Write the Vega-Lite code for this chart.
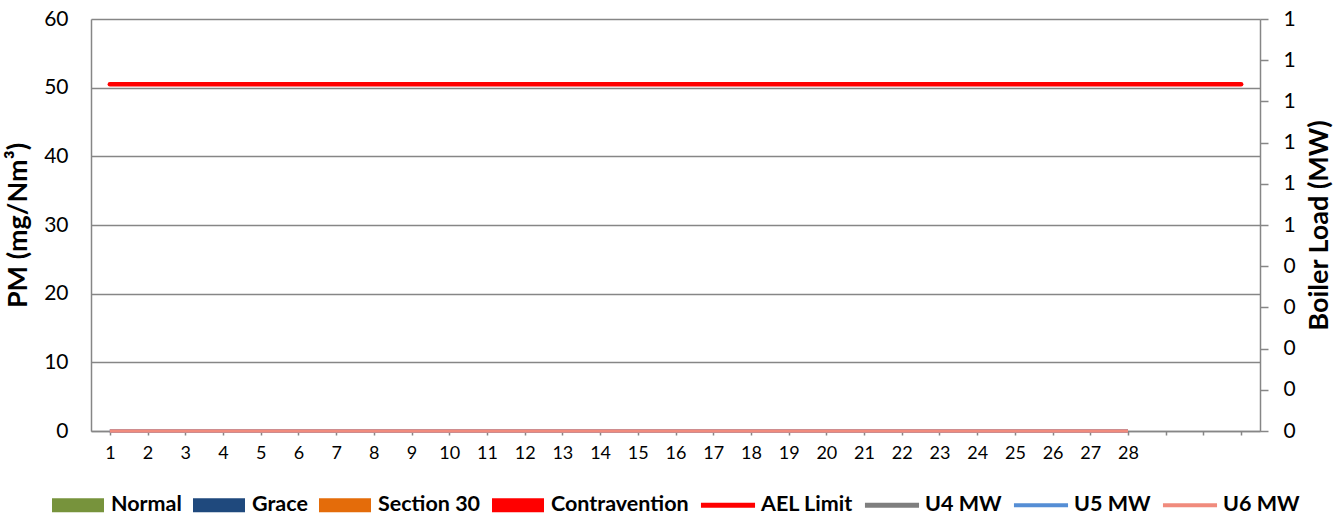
{
  "$schema": "https://vega.github.io/schema/vega-lite/v6.json",
  "width": 1169,
  "height": 412,
  "autosize": {"type": "none"},
  "padding": {"left": 91, "top": 19, "right": 83, "bottom": 85},
  "background": "white",
  "config": {
    "font": "Lato",
    "view": {"stroke": null},
    "axis": {
      "labelColor": "#000000",
      "titleColor": "#000000",
      "domainColor": "#868686",
      "domainWidth": 1.5,
      "tickColor": "#868686",
      "tickWidth": 1.5,
      "gridColor": "#868686",
      "gridWidth": 1.3
    }
  },
  "data": {
    "values": [
      {"day": 1, "AEL Limit": 50.5, "U4 MW": 0, "U5 MW": 0, "U6 MW": 0},
      {"day": 2, "AEL Limit": 50.5, "U4 MW": 0, "U5 MW": 0, "U6 MW": 0},
      {"day": 3, "AEL Limit": 50.5, "U4 MW": 0, "U5 MW": 0, "U6 MW": 0},
      {"day": 4, "AEL Limit": 50.5, "U4 MW": 0, "U5 MW": 0, "U6 MW": 0},
      {"day": 5, "AEL Limit": 50.5, "U4 MW": 0, "U5 MW": 0, "U6 MW": 0},
      {"day": 6, "AEL Limit": 50.5, "U4 MW": 0, "U5 MW": 0, "U6 MW": 0},
      {"day": 7, "AEL Limit": 50.5, "U4 MW": 0, "U5 MW": 0, "U6 MW": 0},
      {"day": 8, "AEL Limit": 50.5, "U4 MW": 0, "U5 MW": 0, "U6 MW": 0},
      {"day": 9, "AEL Limit": 50.5, "U4 MW": 0, "U5 MW": 0, "U6 MW": 0},
      {"day": 10, "AEL Limit": 50.5, "U4 MW": 0, "U5 MW": 0, "U6 MW": 0},
      {"day": 11, "AEL Limit": 50.5, "U4 MW": 0, "U5 MW": 0, "U6 MW": 0},
      {"day": 12, "AEL Limit": 50.5, "U4 MW": 0, "U5 MW": 0, "U6 MW": 0},
      {"day": 13, "AEL Limit": 50.5, "U4 MW": 0, "U5 MW": 0, "U6 MW": 0},
      {"day": 14, "AEL Limit": 50.5, "U4 MW": 0, "U5 MW": 0, "U6 MW": 0},
      {"day": 15, "AEL Limit": 50.5, "U4 MW": 0, "U5 MW": 0, "U6 MW": 0},
      {"day": 16, "AEL Limit": 50.5, "U4 MW": 0, "U5 MW": 0, "U6 MW": 0},
      {"day": 17, "AEL Limit": 50.5, "U4 MW": 0, "U5 MW": 0, "U6 MW": 0},
      {"day": 18, "AEL Limit": 50.5, "U4 MW": 0, "U5 MW": 0, "U6 MW": 0},
      {"day": 19, "AEL Limit": 50.5, "U4 MW": 0, "U5 MW": 0, "U6 MW": 0},
      {"day": 20, "AEL Limit": 50.5, "U4 MW": 0, "U5 MW": 0, "U6 MW": 0},
      {"day": 21, "AEL Limit": 50.5, "U4 MW": 0, "U5 MW": 0, "U6 MW": 0},
      {"day": 22, "AEL Limit": 50.5, "U4 MW": 0, "U5 MW": 0, "U6 MW": 0},
      {"day": 23, "AEL Limit": 50.5, "U4 MW": 0, "U5 MW": 0, "U6 MW": 0},
      {"day": 24, "AEL Limit": 50.5, "U4 MW": 0, "U5 MW": 0, "U6 MW": 0},
      {"day": 25, "AEL Limit": 50.5, "U4 MW": 0, "U5 MW": 0, "U6 MW": 0},
      {"day": 26, "AEL Limit": 50.5, "U4 MW": 0, "U5 MW": 0, "U6 MW": 0},
      {"day": 27, "AEL Limit": 50.5, "U4 MW": 0, "U5 MW": 0, "U6 MW": 0},
      {"day": 28, "AEL Limit": 50.5, "U4 MW": 0, "U5 MW": 0, "U6 MW": 0},
      {"day": 29, "AEL Limit": 50.5},
      {"day": 30, "AEL Limit": 50.5},
      {"day": 31, "AEL Limit": 50.5}
    ]
  },
  "transform": [
    {"fold": ["AEL Limit", "U4 MW", "U5 MW", "U6 MW"], "as": ["series", "value"]}
  ],
  "encoding": {
    "x": {
      "field": "day",
      "type": "ordinal",
      "scale": {
        "type": "point",
        "padding": 0.5,
        "domain": [1,2,3,4,5,6,7,8,9,10,11,12,13,14,15,16,17,18,19,20,21,22,23,24,25,26,27,28,29,30,31]
      },
      "axis": {
        "title": null,
        "labelAngle": 0,
        "labelFontSize": 18,
        "labelPadding": 9,
        "tickSize": 4,
        "grid": false,
        "labelExpr": "datum.value > 28 ? '' : datum.label"
      }
    }
  },
  "layer": [
    {
      "layer": [
        {
          "transform": [{"filter": "datum.series === 'AEL Limit'"}],
          "mark": {"type": "line", "strokeWidth": 4.5, "strokeCap": "round"},
          "encoding": {
            "y": {
              "field": "value",
              "type": "quantitative",
              "scale": {"domain": [0, 60]},
              "axis": {
                "orient": "left",
                "title": "PM (mg/Nm³)",
                "titleFontSize": 27,
                "titleFontWeight": "bold",
                "titlePadding": 11,
                "values": [0, 10, 20, 30, 40, 50, 60],
                "labelFontSize": 21,
                "labelPadding": 23,
                "ticks": false,
                "tickSize": 0,
                "grid": true
              }
            },
            "stroke": {
              "field": "series",
              "type": "nominal",
              "scale": {
                "domain": ["AEL Limit", "U4 MW", "U5 MW", "U6 MW"],
                "range": ["#FF0000", "#7F7F7F", "#558ED5", "#F08B7D"]
              },
              "legend": null
            }
          }
        },
        {
          "mark": {"type": "point", "filled": true, "opacity": 0},
          "encoding": {
            "y": {"field": "value", "type": "quantitative"},
            "color": {
              "field": "series",
              "type": "nominal",
              "scale": {
                "domain": ["Normal", "Grace", "Section 30", "Contravention", "AEL Limit", "U4 MW", "U5 MW", "U6 MW"],
                "range": ["#77933C", "#1F497D", "#E46C0A", "#FF0000", "#FF0000", "#7F7F7F", "#558ED5", "#F08B7D"]
              },
              "legend": {
                "title": null,
                "orient": "none",
                "legendX": -39,
                "legendY": 460,
                "direction": "horizontal",
                "labelFontSize": 21.5,
                "labelFontWeight": "bold",
                "labelColor": "#000000",
                "symbolSize": 2704,
                "symbolOpacity": 1,
                "symbolStrokeWidth": 0,
                "labelOffset": 7,
                "columnPadding": 11
              }
            },
            "shape": {
              "field": "series",
              "type": "nominal",
              "scale": {
                "domain": ["Normal", "Grace", "Section 30", "Contravention", "AEL Limit", "U4 MW", "U5 MW", "U6 MW"],
                "range": [
                  "M-1,-0.27H1V0.27H-1Z",
                  "M-1,-0.27H1V0.27H-1Z",
                  "M-1,-0.27H1V0.27H-1Z",
                  "M-1,-0.27H1V0.27H-1Z",
                  "M-1.04,-0.095H1.04V0.095H-1.04Z",
                  "M-1.04,-0.095H1.04V0.095H-1.04Z",
                  "M-1.04,-0.08H1.04V0.08H-1.04Z",
                  "M-1.04,-0.08H1.04V0.08H-1.04Z"
                ]
              },
              "legend": {
                "title": null,
                "orient": "none",
                "legendX": -39,
                "legendY": 460,
                "direction": "horizontal",
                "labelFontSize": 21.5,
                "labelFontWeight": "bold",
                "labelColor": "#000000",
                "symbolSize": 2704,
                "symbolOpacity": 1,
                "symbolStrokeWidth": 0,
                "labelOffset": 7,
                "columnPadding": 11
              }
            }
          }
        }
      ]
    },
    {
      "transform": [{"filter": "datum.series !== 'AEL Limit'"}],
      "mark": {"type": "line", "strokeWidth": 3.5},
      "encoding": {
        "y": {
          "field": "value",
          "type": "quantitative",
          "scale": {"domain": [0, 1]},
          "axis": {
            "orient": "right",
            "title": "Boiler Load (MW)",
            "titleFontSize": 27,
            "titleFontWeight": "bold",
            "titleAngle": 270,
            "titleBaseline": "top",
            "titlePadding": 11,
            "values": [0, 0.1, 0.2, 0.3, 0.4, 0.5, 0.6, 0.7, 0.8, 0.9, 1],
            "format": ".0f",
            "labelFontSize": 21,
            "labelPadding": 15,
            "tickSize": 8,
            "grid": false
          }
        },
        "stroke": {"field": "series", "type": "nominal", "legend": null}
      }
    }
  ],
  "resolve": {"scale": {"y": "independent"}}
}
